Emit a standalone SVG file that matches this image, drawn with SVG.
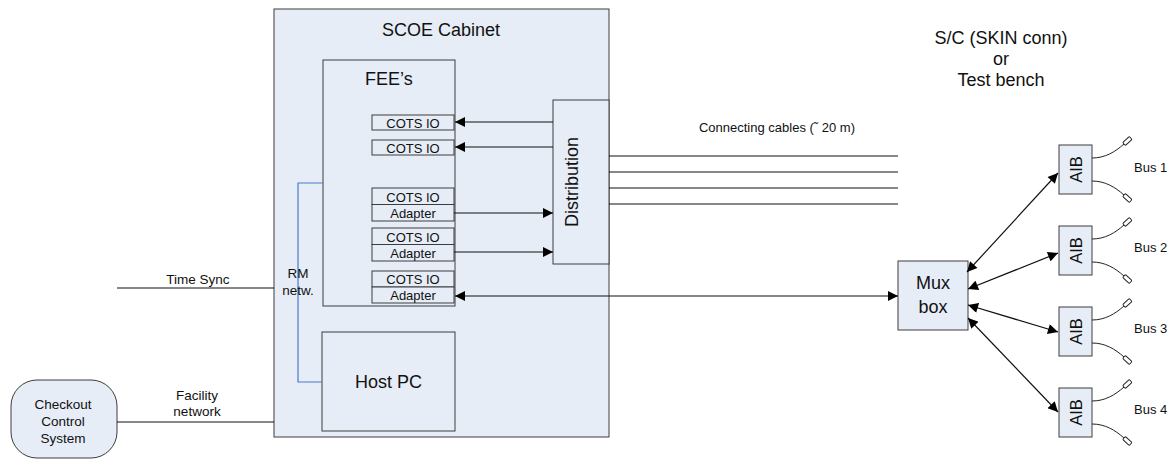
<svg xmlns="http://www.w3.org/2000/svg" width="1172" height="460" viewBox="0 0 1172 460">
  <defs>
    <style>
      text { font-family: "Liberation Sans", Arial, sans-serif; fill: #111; }
      .box { fill: #e7edf7; stroke: #3c3c3c; stroke-width: 1; }
      .big { font-size: 18px; }
      .mid { font-size: 16.5px; }
      .sml { font-size: 13.5px; }
      .io { font-size: 13px; }
      .c { text-anchor: middle; }
      .wire { fill: none; stroke: #111; stroke-width: 1.2; }
      .net { fill: none; stroke: #4a7bc9; stroke-width: 1.2; }
      .stub { fill: none; stroke: #222; stroke-width: 1; }
      .plug { fill: #fff; stroke: #222; stroke-width: 1; }
    </style>
    <marker id="arrow" viewBox="0 0 10 10" refX="10" refY="5" markerWidth="11" markerHeight="10" markerUnits="userSpaceOnUse" orient="auto-start-reverse">
      <path d="M0,0 L10,5 L0,10 Z" fill="#000"/>
    </marker>
    <!-- bus stub: curved lead ending in a small plug -->
    <g id="stub-up">
      <path class="stub" d="M0,0 C13,0 23,-6 32,-14"/>
      <rect class="plug" x="0" y="-2" width="9" height="4" rx="1" transform="translate(32,-14) rotate(-42)"/>
    </g>
  </defs>

  <!-- SCOE cabinet -->
  <g id="cabinet">
    <rect class="box" x="274" y="9" width="335" height="428"/>
    <text class="big c" x="441" y="36">SCOE Cabinet</text>
  </g>

  <!-- front end equipment rack -->
  <g id="fee">
    <rect class="box" x="323" y="60" width="132" height="246"/>
    <text class="big" x="365" y="85">FEE’s</text>
  </g>

  <g id="io1">
    <rect class="box" x="372" y="115" width="82" height="15"/>
    <text class="io c" x="413" y="127.5">COTS IO</text>
  </g>
  <g id="io2">
    <rect class="box" x="372" y="140" width="82" height="15"/>
    <text class="io c" x="413" y="152.5">COTS IO</text>
  </g>
  <g id="io3">
    <rect class="box" x="372" y="188" width="82" height="16.5"/>
    <rect class="box" x="372" y="204.5" width="82" height="16.5"/>
    <text class="io c" x="413" y="201.5">COTS IO</text>
    <text class="io c" x="413" y="218">Adapter</text>
  </g>
  <g id="io4">
    <rect class="box" x="372" y="228" width="82" height="16.5"/>
    <rect class="box" x="372" y="244.5" width="82" height="16.5"/>
    <text class="io c" x="413" y="241.5">COTS IO</text>
    <text class="io c" x="413" y="258">Adapter</text>
  </g>
  <g id="io5">
    <rect class="box" x="372" y="271" width="82" height="16"/>
    <rect class="box" x="372" y="287" width="82" height="16"/>
    <text class="io c" x="413" y="284">COTS IO</text>
    <text class="io c" x="413" y="300">Adapter</text>
  </g>

  <g id="distribution">
    <rect class="box" x="553" y="100" width="56" height="164"/>
    <text class="big c" transform="translate(578,182) rotate(-90)">Distribution</text>
  </g>

  <g id="host-pc">
    <rect class="box" x="322" y="332" width="133" height="99"/>
    <text class="big c" x="388.5" y="388">Host PC</text>
  </g>

  <g id="checkout">
    <rect class="box" x="11" y="380" width="106" height="78" rx="26" ry="26"/>
    <text class="sml c" x="63" y="409">Checkout</text>
    <text class="sml c" x="63" y="426">Control</text>
    <text class="sml c" x="63" y="443">System</text>
  </g>

  <g id="mux">
    <rect class="box" x="898" y="261" width="70" height="69"/>
    <text class="big c" x="933" y="289">Mux</text>
    <text class="big c" x="933" y="313">box</text>
  </g>

  <g id="aib1">
    <rect class="box" x="1059" y="145" width="33" height="49"/>
    <text class="mid c" transform="translate(1082,169.5) rotate(-90)">AIB</text>
    <use href="#stub-up" x="1092" y="158"/>
    <use href="#stub-up" transform="translate(1092,181) scale(1,-1)"/>
  </g>
  <g id="aib2">
    <rect class="box" x="1059" y="226" width="33" height="49"/>
    <text class="mid c" transform="translate(1082,250.5) rotate(-90)">AIB</text>
    <use href="#stub-up" x="1092" y="239"/>
    <use href="#stub-up" transform="translate(1092,262) scale(1,-1)"/>
  </g>
  <g id="aib3">
    <rect class="box" x="1059" y="307" width="33" height="49"/>
    <text class="mid c" transform="translate(1082,331.5) rotate(-90)">AIB</text>
    <use href="#stub-up" x="1092" y="320"/>
    <use href="#stub-up" transform="translate(1092,343) scale(1,-1)"/>
  </g>
  <g id="aib4">
    <rect class="box" x="1059" y="388" width="33" height="49"/>
    <text class="mid c" transform="translate(1082,412.5) rotate(-90)">AIB</text>
    <use href="#stub-up" x="1092" y="401"/>
    <use href="#stub-up" transform="translate(1092,424) scale(1,-1)"/>
  </g>

  <!-- connectors -->
  <g id="connectors">
    <path class="wire" d="M553,122 H455" marker-end="url(#arrow)"/>
    <path class="wire" d="M553,147 H455" marker-end="url(#arrow)"/>
    <path class="wire" d="M454,213 H553" marker-end="url(#arrow)"/>
    <path class="wire" d="M454,252 H553" marker-end="url(#arrow)"/>
    <path class="wire" d="M455,296 H898" marker-start="url(#arrow)" marker-end="url(#arrow)"/>

    <path class="wire" d="M609,156 H898 M609,172 H898 M609,188 H898 M609,204 H898"/>

    <path class="wire" d="M967,272 L1058,173" marker-start="url(#arrow)" marker-end="url(#arrow)"/>
    <path class="wire" d="M968,289 L1058,253" marker-start="url(#arrow)" marker-end="url(#arrow)"/>
    <path class="wire" d="M968,305 L1058,332" marker-start="url(#arrow)" marker-end="url(#arrow)"/>
    <path class="wire" d="M968,318 L1058,412" marker-start="url(#arrow)" marker-end="url(#arrow)"/>

    <path class="wire" d="M117,288 H274"/>
    <path class="wire" d="M117,422 H274"/>

    <path class="net" d="M323,183 H298 V382 H322"/>
  </g>

  <!-- labels -->
  <g id="labels">
    <text class="sml c" x="198" y="284">Time Sync</text>
    <text class="sml c" x="197" y="400">Facility</text>
    <text class="sml c" x="197" y="416">network</text>
    <text class="sml c" x="298" y="278">RM</text>
    <text class="sml c" x="298" y="295">netw.</text>
    <text class="io c" x="777" y="132">Connecting cables (˜ 20 m)</text>
    <text class="big c" x="1001" y="44">S/C (SKIN conn)</text>
    <text class="big c" x="1001" y="65">or</text>
    <text class="big c" x="1001" y="86">Test bench</text>
    <text class="io" x="1134" y="172">Bus 1</text>
    <text class="io" x="1134" y="252">Bus 2</text>
    <text class="io" x="1134" y="333">Bus 3</text>
    <text class="io" x="1134" y="414">Bus 4</text>
  </g>
</svg>
